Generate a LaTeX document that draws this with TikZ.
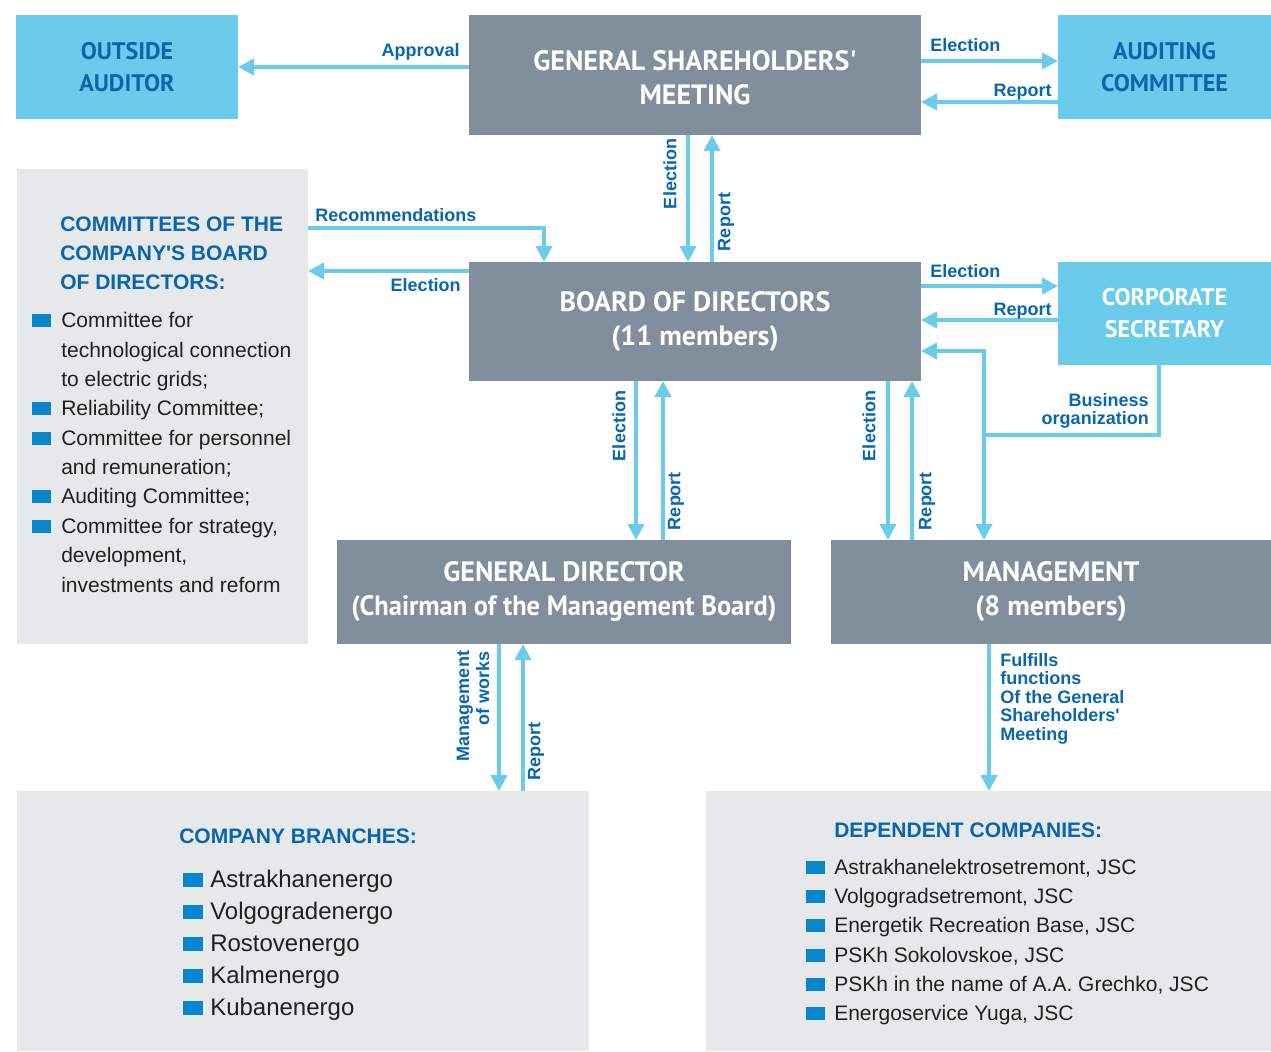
\documentclass[tikz,border=0pt]{standalone}
\usepackage{fontspec}
\setmainfont{Liberation Sans}
\newfontfamily\dinfont{PT Sans}
\usetikzlibrary{arrows.meta}
\definecolor{lblue}{HTML}{6BCBEB}
\definecolor{gbox}{HTML}{818F9D}
\definecolor{lgray}{HTML}{E7E8EA}
\definecolor{tblue}{HTML}{0866B0}
\definecolor{bulc}{HTML}{0A87CB}
\definecolor{ltext}{HTML}{231F20}
\tikzset{
  x=0.75pt, y=-0.75pt,
  boxbase/.style={inner sep=0pt, outer sep=0pt, align=center},
  bluebox/.style={boxbase, fill=lblue, text=tblue, font=\dinfont\bfseries\fontsize{18}{24}\selectfont},
  whitebluebox/.style={bluebox, text=white},
  graybox/.style={boxbase, fill=gbox, text=white, font=\dinfont\bfseries\fontsize{21}{25.5}\selectfont},
  panel/.style={boxbase, fill=lgray},
  arr/.style={draw=lblue, line width=3pt, -{Triangle[width=12pt,length=12pt]}},
  plainline/.style={draw=lblue, line width=3pt},
  lab/.style={inner sep=0pt, text=tblue, font=\bfseries\fontsize{13.5}{14}\selectfont},
  vlab/.style={lab, rotate=90},
  head/.style={inner sep=0pt, anchor=base west, text=tblue, font=\bfseries\fontsize{15.75}{22}\selectfont},
  listtxt/.style={inner sep=0pt, anchor=base west, text=ltext, font=\fontsize{15.75}{22}\selectfont},
  bigtxt/.style={inner sep=0pt, anchor=base west, text=ltext, font=\fontsize{18}{24}\selectfont},
}
\begin{document}
\begin{tikzpicture}
\useasboundingbox (0,0) rectangle (1271,1052);
% boxes
\node[bluebox, minimum width=166.5pt, minimum height=78pt] (oa) at (127,67) {OUTSIDE\\AUDITOR};
\node[graybox, minimum width=339pt, minimum height=90pt] (gsm) at (695,75) {\rule{0pt}{19.5pt}GENERAL SHAREHOLDERS\textquotesingle\\MEETING};
\node[bluebox, minimum width=159.75pt, minimum height=78pt] (ac) at (1164.5,67) {AUDITING\\COMMITTEE};
\node[panel, minimum width=218.25pt, minimum height=356.25pt] (com) at (162.5,406.5) {};
\node[graybox, minimum width=339pt, minimum height=89.25pt] (bod) at (695,321.5) {BOARD OF DIRECTORS\\(11 members)};
\node[whitebluebox, minimum width=159.75pt, minimum height=77.25pt] (cs) at (1164.5,313.5) {CORPORATE\\SECRETARY};
\node[graybox, minimum width=340.5pt, minimum height=78pt] (gd) at (564,592) {GENERAL DIRECTOR\\\scalebox{0.945}[1]{(Chairman of the Management Board)}};
\node[graybox, minimum width=330pt, minimum height=78pt] (mg) at (1051,592) {MANAGEMENT\\(8 members)};
\node[panel, minimum width=429pt, minimum height=195pt] (br) at (303,921) {};
\node[panel, minimum width=423.75pt, minimum height=195pt] (dc) at (988.5,921) {};

% committees text
\node[head] (ch1) at (60,231) {COMMITTEES OF THE};
\node[head] (ch2) at (60,260) {COMPANY\textquotesingle S BOARD};
\node[head] (ch3) at (60,289) {OF DIRECTORS:};
\foreach \txt/\yy [count=\i] in {{Committee for}/327, {technological connection}/357, {to electric grids;}/386, {Reliability Committee;}/415, {Committee for personnel}/445, {and remuneration;}/474, {Auditing Committee;}/503, {Committee for strategy,}/533, {development,}/562, {investments and reform}/592}
  \node[listtxt] (cl\i) at (61,\yy) {\txt};
\foreach \yy in {327,415,445,503,533}
  \fill[bulc] (32,\yy-13) rectangle (51,\yy);

% branches
\node[head] (bh) at (179,843) {COMPANY BRANCHES:};
\foreach \txt/\yy [count=\i] in {Astrakhanenergo/887, Volgogradenergo/919, Rostovenergo/951, Kalmenergo/983, Kubanenergo/1015}
  {\node[bigtxt] (bl\i) at (210,\yy) {\txt};
   \fill[bulc] (183,\yy-14) rectangle (203,\yy);}

% dependent companies
\node[head] (dh) at (834,837) {DEPENDENT COMPANIES:};
\foreach \txt/\yy [count=\i] in {{Astrakhanelektrosetremont, JSC}/874, {Volgogradsetremont, JSC}/903, {Energetik Recreation Base, JSC}/932, {PSKh Sokolovskoe, JSC}/962, {PSKh in the name of A.A. Grechko, JSC}/991, {Energoservice Yuga, JSC}/1020}
  {\node[listtxt] (dl\i) at (834,\yy) {\txt};
   \fill[bulc] (806,\yy-13) rectangle (825,\yy);}

% connectors
\draw[arr] (gsm.west |- 0,67) -- (oa.east |- 0,67);
\draw[arr] (gsm.east |- 0,61) -- (ac.west |- 0,61);
\draw[arr] (ac.west |- 0,102) -- (gsm.east |- 0,102);
\draw[arr] (gsm.south -| 688,0) -- (bod.north -| 688,0);
\draw[arr] (bod.north -| 712,0) -- (gsm.south -| 712,0);
\draw[arr] (com.east |- 0,228) -| (bod.north -| 544,0);
\draw[arr] (bod.west |- 0,271) -- (com.east |- 0,271);
\draw[arr] (bod.east |- 0,286) -- (cs.west |- 0,286);
\draw[arr] (cs.west |- 0,320) -- (bod.east |- 0,320);
\coordinate (bj) at (984,435);
\draw[plainline] (cs.south -| 1159,0) |- (bj);
\draw[arr] (bj) |- (bod.east |- 0,351);
\draw[arr] (bj) -- (mg.north -| 984,0);
\draw[arr] (bod.south -| 636,0) -- (gd.north -| 636,0);
\draw[arr] (gd.north -| 663,0) -- (bod.south -| 663,0);
\draw[arr] (bod.south -| 888,0) -- (mg.north -| 888,0);
\draw[arr] (mg.north -| 912,0) -- (bod.south -| 912,0);
\draw[arr] (gd.south -| 499,0) -- (br.north -| 499,0);
\draw[arr] (br.north -| 523,0) -- (gd.south -| 523,0);
\draw[arr] (mg.south -| 989,0) -- (dc.north -| 989,0);

% labels
\node[lab, anchor=base east] (l1) at (460,57) {Approval};
\node[lab, anchor=base west] (l2) at (930,52) {Election};
\node[lab, anchor=base east] (l3) at (1052,97) {Report};
\node[vlab] (l4) at (670,174) {Election};
\node[vlab] (l5) at (726,222) {Report};
\node[lab, anchor=base west] (l6) at (315,221) {Recommendations};
\node[lab, anchor=base east] (l7) at (461,291) {Election};
\node[lab, anchor=base west] (l8) at (930,277) {Election};
\node[lab, anchor=base east] (l9) at (1052,315) {Report};
\node[lab, anchor=base east] (l10) at (1149,406) {Business};
\node[lab, anchor=base east] (l11) at (1149,424) {organization};
\node[vlab] (l12) at (619,426) {Election};
\node[vlab] (l13) at (676,501) {Report};
\node[vlab] (l14) at (869,426) {Election};
\node[vlab] (l15) at (927,501) {Report};
\node[vlab, align=right, font=\bfseries\fontsize{13.5}{15}\selectfont] (l16) at (473,706) {Management\\of works};
\node[vlab] (l17) at (536,751) {Report};
\foreach \txt/\yy [count=\i] in {Fulfills/666, functions/684, {Of the General}/703, {Shareholders\textquotesingle}/721, Meeting/740}
  \node[lab, anchor=base west] (lf\i) at (1000,\yy) {\txt};
\end{tikzpicture}
\end{document}
